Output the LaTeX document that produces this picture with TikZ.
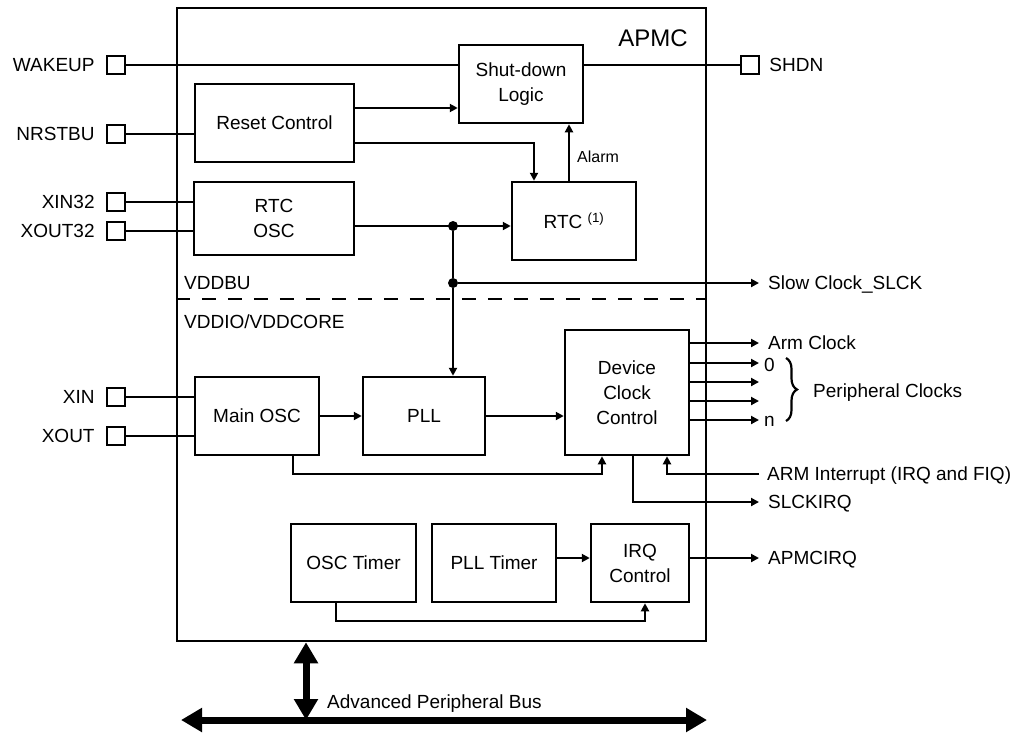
\documentclass[tikz,border=0pt]{standalone}
\usepackage{fontspec}
\setmainfont{Liberation Sans}
\usetikzlibrary{positioning}
\usetikzlibrary{arrows.meta}
\usetikzlibrary{decorations.pathreplacing}

\tikzset{
	block/.style={draw, line width=2.5pt, align=center, inner sep=0pt, font=\fontsize{19}{25}\selectfont},
	pinsq/.style={draw, line width=2.4pt, minimum size=18pt, inner sep=0pt},
	lbl/.style={inner sep=0pt, text height=13.6pt, text depth=0pt, font=\fontsize{19}{23}\selectfont},
	wire/.style={line width=2.2pt},
	sig/.style={wire, -{Triangle[length=8pt, width=8pt]}},
	bus/.style={line width=7pt, {Triangle[length=21pt, width=23pt]}-{Triangle[length=21pt, width=23pt]}},
	junction/.style={circle, fill, inner sep=0pt, minimum size=10pt},
}

\begin{document}
\begin{tikzpicture}[x=1pt, y=-1pt]
	\useasboundingbox (0,0) rectangle (1032,734);

	%outer APMC box
	\node[draw, line width=2.5pt, minimum width=529pt, minimum height=633pt, inner sep=0pt] (apmc) at (441.5,324.5) {};
	\node[lbl, font=\fontsize{24}{28}\selectfont, anchor=base east] (apmctxt) at (688,46) {APMC};

	%function blocks
	\node[block, minimum width=124pt, minimum height=78pt] (shut) at (521,84) {Shut-down\\Logic};
	\node[block, minimum width=159pt, minimum height=78pt] (reset) at (274.5,123) {Reset Control};
	\node[block, minimum width=160pt, minimum height=73pt] (rtcosc) at (274,218.5) {RTC\\OSC};
	\node[block, minimum width=124pt, minimum height=78pt] (rtc) at (574,221) {RTC \textsuperscript{(1)}};
	\node[block, minimum width=124pt, minimum height=78pt] (mainosc) at (257,416) {Main OSC};
	\node[block, minimum width=122pt, minimum height=78pt] (pll) at (424,416) {PLL};
	\node[block, minimum width=124pt, minimum height=125pt] (dcc) at (627,392.5) {Device\\Clock\\Control};
	\node[block, minimum width=125pt, minimum height=78pt] (osctimer) at (353.5,563) {OSC Timer};
	\node[block, minimum width=124pt, minimum height=78pt] (plltimer) at (494,563) {PLL Timer};
	\node[block, minimum width=98pt, minimum height=78pt] (irq) at (640,563) {IRQ\\Control};

	%pins
	\node[pinsq] (wakeup) at (116,65) {};
	\node[pinsq] (nrstbu) at (116,134) {};
	\node[pinsq] (xin32) at (116,202) {};
	\node[pinsq] (xout32) at (116,231) {};
	\node[pinsq] (xin) at (116,397) {};
	\node[pinsq] (xout) at (116,436) {};
	\node[pinsq] (shdn) at (750,65) {};
	\node[lbl, left=11pt of wakeup] (wakeuplbl) {WAKEUP};
	\node[lbl, left=11pt of nrstbu] (nrstbulbl) {NRSTBU};
	\node[lbl, left=11pt of xin32] (xin32lbl) {XIN32};
	\node[lbl, left=11pt of xout32] (xout32lbl) {XOUT32};
	\node[lbl, left=11pt of xin] (xinlbl) {XIN};
	\node[lbl, left=11pt of xout] (xoutlbl) {XOUT};
	\node[lbl, right=9pt of shdn] (shdnlbl) {SHDN};

	%pin wires
	\draw[wire] (wakeup) -- (wakeup -| shut.west);
	\draw[wire] (shdn) -- (shdn -| shut.east);
	\draw[wire] (nrstbu) -- (nrstbu -| reset.west);
	\draw[wire] (xin32) -- (xin32 -| rtcosc.west);
	\draw[wire] (xout32) -- (xout32 -| rtcosc.west);
	\draw[wire] (xin) -- (xin -| mainosc.west);
	\draw[wire] (xout) -- (xout -| mainosc.west);

	%reset control outputs
	\draw[sig] ([yshift=15pt]reset.east) -- ([yshift=15pt]reset.east -| shut.west);
	\coordinate (rstbend) at (534,143); %bend above RTC
	\draw[sig] (reset.east |- rstbend) -- (rstbend) -- (rstbend |- rtc.north);

	%alarm
	\coordinate (alarm) at (569,157);
	\draw[sig] (alarm |- rtc.north) -- (alarm |- shut.south);
	\node[lbl, text height=11.5pt, font=\fontsize{16}{19}\selectfont, anchor=west] (alarmlbl) at (577,157) {Alarm};

	%slow clock
	\node[junction] (j1) at (453,226) {};
	\node[junction] (j2) at (453,283) {};
	\draw[sig] (rtcosc.east |- j1) -- (rtc.west |- j1);
	\draw[wire] (j1) -- (j2);
	\draw[sig] (j2) -- (j2 |- pll.north);
	\node[lbl, anchor=west] (slck) at (768,283) {Slow Clock\_SLCK};
	\draw[sig] (j2) -- ([xshift=-9pt]slck.west);

	%power domains
	\coordinate (split) at (441,299);
	\draw[line width=2.6pt, dash pattern=on 14pt off 12pt] (apmc.west |- split) -- (apmc.east |- split);
	\node[lbl, anchor=west] (vddbu) at (184,283) {VDDBU};
	\node[lbl, anchor=west] (vddio) at (184,322) {VDDIO/VDDCORE};

	%main clock path
	\draw[sig] (mainosc) -- (pll);
	\draw[sig] (pll) -- (pll -| dcc.west);
	\coordinate (oscbend) at (293,474);
	\coordinate (dccin) at (602,474);
	\draw[sig] (mainosc.south -| oscbend) -- (oscbend) -- (dccin) -- (dccin |- dcc.south);

	%clock outputs
	\node[lbl, anchor=west] (armclk) at (768,343) {Arm Clock};
	\draw[sig] (dcc.east |- armclk) -- ([xshift=-9pt]armclk.west);
	\foreach \yy [count=\i] in {363,382,401,420}{
		\coordinate (per\i) at (759,\yy);
		\draw[sig] (dcc.east |- per\i) -- (per\i);
	}
	\node[lbl, anchor=west] (zerolbl) at (764,365) {0};
	\node[lbl, anchor=west] (nlbl) at (764,420) {n};
	\coordinate (bracetop) at (786,358);
	\coordinate (bracebot) at (786,421);
	\draw[wire, decorate, decoration={brace, amplitude=11pt}] (bracetop) -- (bracebot);
	\node[lbl, anchor=west] (perclk) at (813,391) {Peripheral Clocks};

	%interrupts
	\node[lbl, anchor=west] (armirq) at (767,474) {ARM Interrupt (IRQ and FIQ)};
	\coordinate (irqbend) at (667,474);
	\draw[sig] ([xshift=-8pt]armirq.west) -- (irqbend) -- (irqbend |- dcc.south);
	\node[lbl, anchor=west] (slckirq) at (768,502) {SLCKIRQ};
	\coordinate (slckbend) at (633,502);
	\draw[sig] (slckbend |- dcc.south) -- (slckbend) -- ([xshift=-9pt]slckirq.west);

	%timers
	\draw[sig] ([yshift=5pt]plltimer.east) -- ([yshift=5pt]plltimer.east -| irq.west);
	\coordinate (tmrbend) at (336,621);
	\coordinate (tmrin) at (645,621);
	\draw[sig] (osctimer.south -| tmrbend) -- (tmrbend) -- (tmrin) -- (tmrin |- irq.south);
	\node[lbl, anchor=west] (apmcirq) at (768,558) {APMCIRQ};
	\draw[sig] ([yshift=5pt]irq.east) -- ([xshift=-9pt]apmcirq.west);

	%peripheral bus
	\coordinate (busl) at (181,720);
	\coordinate (busr) at (707,720);
	\coordinate (busv) at (306,720);
	\draw[bus] (busl) -- (busr);
	\draw[bus] (apmc.south -| busv) -- (busv);
	\node[lbl, anchor=west] (buslbl) at (327,702) {Advanced Peripheral Bus};
\end{tikzpicture}
\end{document}
